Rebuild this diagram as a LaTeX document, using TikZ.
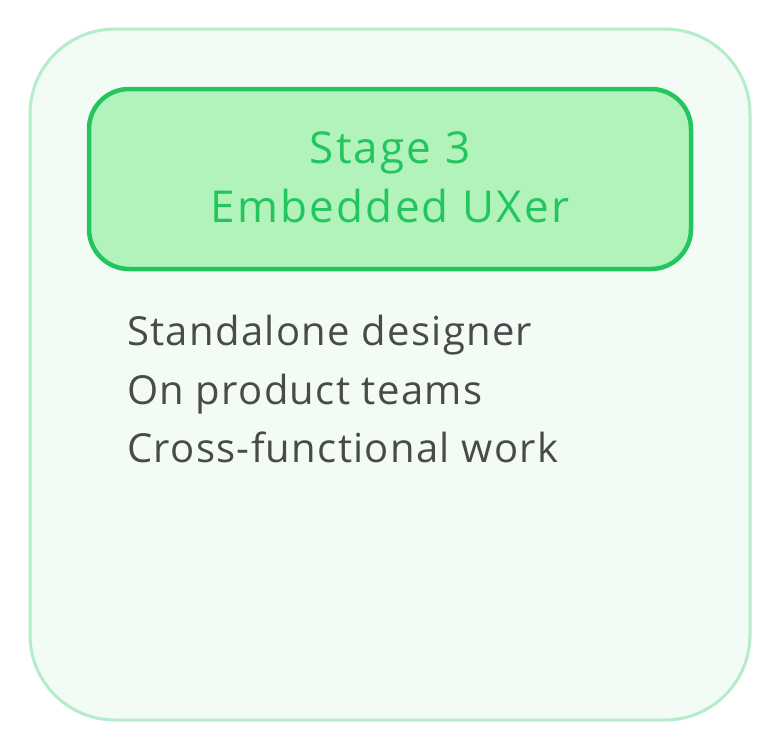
\documentclass[tikz,border=0pt]{standalone}
\usepackage{fontspec}
\setmainfont{Open Sans}
\definecolor{outerfill}{HTML}{F2FCF4}
\definecolor{outerline}{HTML}{B5ECC9}
\definecolor{innerfill}{HTML}{B2F2BB}
\definecolor{innerline}{HTML}{22C55E}
\definecolor{bodytext}{HTML}{4A4A4A}
\begin{document}
\begin{tikzpicture}[x=1pt,y=-1pt,
  outerbox/.style={draw=outerline,fill=outerfill,line width=3pt,rounded corners=85pt},
  innerbox/.style={draw=innerline,fill=innerfill,line width=4.5pt,rounded corners=40pt},
  titletext/.style={text=innerline,font=\fontsize{44}{52}\selectfont\addfontfeatures{LetterSpace=5},inner sep=0pt,anchor=base},
  bodyline/.style={text=bodytext,font=\fontsize{40}{48}\selectfont\addfontfeatures{LetterSpace=3.3},inner sep=0pt,anchor=base west}]
\useasboundingbox (0,0) rectangle (780,750);
\draw[outerbox] (30,29) rectangle (750,720);
\draw[innerbox] (89,89) rectangle (691,269);
\node[titletext] (t1) at (390,163) {Stage 3};
\node[titletext] (t2) at (390,222) {Embedded UXer};
\node[bodyline] (l1) at (127,345) {Standalone designer};
\node[bodyline] (l2) at (127,404) {On product teams};
\node[bodyline] (l3) at (127,462) {Cross-functional work};
\end{tikzpicture}
\end{document}
